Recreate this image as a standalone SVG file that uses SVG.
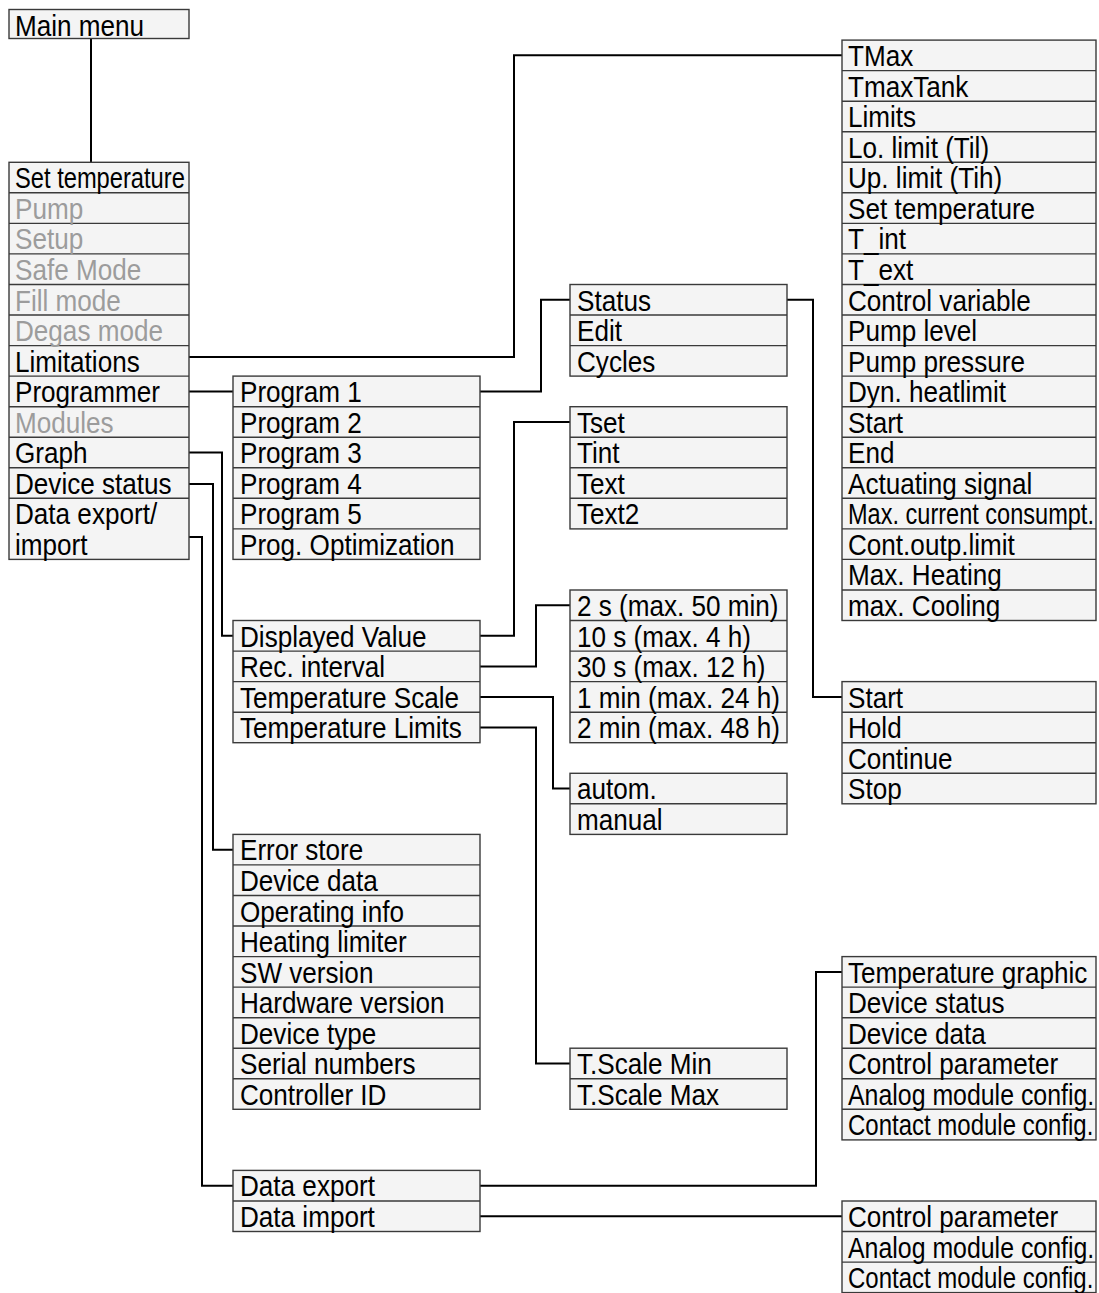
<svg xmlns="http://www.w3.org/2000/svg" width="1099" height="1293" viewBox="0 0 1099 1293">
<style>
.box{fill:#f4f4f4;stroke:#3a3a3a;stroke-width:1.4}
.sep{fill:none;stroke:#3a3a3a;stroke-width:1.4}
.t{font-family:"Liberation Sans",Arial,sans-serif;font-size:30px;fill:#000}
.g{fill:#9c9c9c}
#connectors path{fill:none;stroke:#000;stroke-width:2}
</style>
<rect width="1099" height="1293" fill="#fff"/>
<g id="connectors">
<path d="M91,38.5 V162.3"/>
<path d="M189,357 H514 V55.3 H842"/>
<path d="M189,391.4 H233"/>
<path d="M480,391.4 H541 V299.8 H570"/>
<path d="M787,299.8 H813 V696.9 H842"/>
<path d="M189,452.5 H222 V635.8 H233"/>
<path d="M189,484 H213 V849.7 H233"/>
<path d="M189,537 H202 V1185.7 H233"/>
<path d="M480,635.8 H514 V422 H570"/>
<path d="M480,666.4 H536 V605.3 H570"/>
<path d="M480,696.9 H553 V788.6 H570"/>
<path d="M480,727.5 H536 V1063.5 H570"/>
<path d="M480,1185.7 H816 V971.9 H842"/>
<path d="M480,1216.3 H842"/>
</g>
<g id="main-menu">
<rect class="box" x="9" y="9.5" width="180" height="29"/>
<text class="t" transform="translate(15,35.5) scale(0.87,1)">Main menu</text>
</g>
<g id="menu">
<rect class="box" x="9" y="162.3" width="180" height="397.1"/>
<path class="sep" d="M9,192.8H189M9,223.4H189M9,253.9H189M9,284.5H189M9,315H189M9,345.6H189M9,376.1H189M9,406.7H189M9,437.2H189M9,467.8H189M9,498.3H189"/>
<text class="t" transform="translate(15,188.3) scale(0.79,1)">Set temperature</text>
<text class="t g" transform="translate(15,218.8) scale(0.87,1)">Pump</text>
<text class="t g" transform="translate(15,249.4) scale(0.87,1)">Setup</text>
<text class="t g" transform="translate(15,279.9) scale(0.87,1)">Safe Mode</text>
<text class="t g" transform="translate(15,310.5) scale(0.87,1)">Fill mode</text>
<text class="t g" transform="translate(15,341) scale(0.87,1)">Degas mode</text>
<text class="t" transform="translate(15,371.6) scale(0.87,1)">Limitations</text>
<text class="t" transform="translate(15,402.1) scale(0.87,1)">Programmer</text>
<text class="t g" transform="translate(15,432.7) scale(0.87,1)">Modules</text>
<text class="t" transform="translate(15,463.2) scale(0.87,1)">Graph</text>
<text class="t" transform="translate(15,493.8) scale(0.87,1)">Device status</text>
<text class="t" transform="translate(15,524.3) scale(0.87,1)">Data export/</text>
<text class="t" transform="translate(15,554.9) scale(0.87,1)">import</text>
</g>
<g id="programs">
<rect class="box" x="233" y="376.1" width="247" height="183.3"/>
<path class="sep" d="M233,406.7H480M233,437.2H480M233,467.8H480M233,498.3H480M233,528.9H480"/>
<text class="t" transform="translate(240,402.1) scale(0.87,1)">Program 1</text>
<text class="t" transform="translate(240,432.7) scale(0.87,1)">Program 2</text>
<text class="t" transform="translate(240,463.2) scale(0.87,1)">Program 3</text>
<text class="t" transform="translate(240,493.8) scale(0.87,1)">Program 4</text>
<text class="t" transform="translate(240,524.3) scale(0.87,1)">Program 5</text>
<text class="t" transform="translate(240,554.9) scale(0.87,1)">Prog. Optimization</text>
</g>
<g id="limitations">
<rect class="box" x="842" y="40.1" width="254" height="580.4"/>
<path class="sep" d="M842,70.6H1096M842,101.2H1096M842,131.7H1096M842,162.3H1096M842,192.8H1096M842,223.4H1096M842,253.9H1096M842,284.5H1096M842,315H1096M842,345.6H1096M842,376.1H1096M842,406.7H1096M842,437.2H1096M842,467.8H1096M842,498.3H1096M842,528.9H1096M842,559.4H1096M842,590H1096"/>
<text class="t" transform="translate(848,66.1) scale(0.87,1)">TMax</text>
<text class="t" transform="translate(848,96.6) scale(0.87,1)">TmaxTank</text>
<text class="t" transform="translate(848,127.2) scale(0.87,1)">Limits</text>
<text class="t" transform="translate(848,157.7) scale(0.87,1)">Lo. limit (Til)</text>
<text class="t" transform="translate(848,188.3) scale(0.87,1)">Up. limit (Tih)</text>
<text class="t" transform="translate(848,218.8) scale(0.87,1)">Set temperature</text>
<text class="t" transform="translate(848,249.4) scale(0.87,1)">T_int</text>
<text class="t" transform="translate(848,279.9) scale(0.87,1)">T_ext</text>
<text class="t" transform="translate(848,310.5) scale(0.87,1)">Control variable</text>
<text class="t" transform="translate(848,341) scale(0.87,1)">Pump level</text>
<text class="t" transform="translate(848,371.6) scale(0.87,1)">Pump pressure</text>
<text class="t" transform="translate(848,402.1) scale(0.87,1)">Dyn. heatlimit</text>
<text class="t" transform="translate(848,432.7) scale(0.87,1)">Start</text>
<text class="t" transform="translate(848,463.2) scale(0.87,1)">End</text>
<text class="t" transform="translate(848,493.8) scale(0.87,1)">Actuating signal</text>
<text class="t" transform="translate(848,524.3) scale(0.785,1)">Max. current consumpt.</text>
<text class="t" transform="translate(848,554.9) scale(0.87,1)">Cont.outp.limit</text>
<text class="t" transform="translate(848,585.4) scale(0.87,1)">Max. Heating</text>
<text class="t" transform="translate(848,616) scale(0.87,1)">max. Cooling</text>
</g>
<g id="program-status">
<rect class="box" x="570" y="284.5" width="217" height="91.6"/>
<path class="sep" d="M570,315H787M570,345.6H787"/>
<text class="t" transform="translate(577,310.5) scale(0.87,1)">Status</text>
<text class="t" transform="translate(577,341) scale(0.87,1)">Edit</text>
<text class="t" transform="translate(577,371.6) scale(0.87,1)">Cycles</text>
</g>
<g id="displayed-values">
<rect class="box" x="570" y="406.7" width="217" height="122.2"/>
<path class="sep" d="M570,437.2H787M570,467.8H787M570,498.3H787"/>
<text class="t" transform="translate(577,432.7) scale(0.87,1)">Tset</text>
<text class="t" transform="translate(577,463.2) scale(0.87,1)">Tint</text>
<text class="t" transform="translate(577,493.8) scale(0.87,1)">Text</text>
<text class="t" transform="translate(577,524.3) scale(0.87,1)">Text2</text>
</g>
<g id="rec-intervals">
<rect class="box" x="570" y="590" width="217" height="152.7"/>
<path class="sep" d="M570,620.5H787M570,651.1H787M570,681.6H787M570,712.2H787"/>
<text class="t" transform="translate(577,616) scale(0.87,1)">2 s (max. 50 min)</text>
<text class="t" transform="translate(577,646.5) scale(0.87,1)">10 s (max. 4 h)</text>
<text class="t" transform="translate(577,677.1) scale(0.87,1)">30 s (max. 12 h)</text>
<text class="t" transform="translate(577,707.6) scale(0.87,1)">1 min (max. 24 h)</text>
<text class="t" transform="translate(577,738.2) scale(0.87,1)">2 min (max. 48 h)</text>
</g>
<g id="graph">
<rect class="box" x="233" y="620.5" width="247" height="122.2"/>
<path class="sep" d="M233,651.1H480M233,681.6H480M233,712.2H480"/>
<text class="t" transform="translate(240,646.5) scale(0.87,1)">Displayed Value</text>
<text class="t" transform="translate(240,677.1) scale(0.87,1)">Rec. interval</text>
<text class="t" transform="translate(240,707.6) scale(0.87,1)">Temperature Scale</text>
<text class="t" transform="translate(240,738.2) scale(0.87,1)">Temperature Limits</text>
</g>
<g id="program-control">
<rect class="box" x="842" y="681.6" width="254" height="122.2"/>
<path class="sep" d="M842,712.2H1096M842,742.7H1096M842,773.3H1096"/>
<text class="t" transform="translate(848,707.6) scale(0.87,1)">Start</text>
<text class="t" transform="translate(848,738.2) scale(0.87,1)">Hold</text>
<text class="t" transform="translate(848,768.7) scale(0.87,1)">Continue</text>
<text class="t" transform="translate(848,799.3) scale(0.87,1)">Stop</text>
</g>
<g id="temperature-scale">
<rect class="box" x="570" y="773.3" width="217" height="61.1"/>
<path class="sep" d="M570,803.8H787"/>
<text class="t" transform="translate(577,799.3) scale(0.87,1)">autom.</text>
<text class="t" transform="translate(577,829.8) scale(0.87,1)">manual</text>
</g>
<g id="device-status">
<rect class="box" x="233" y="834.4" width="247" height="274.9"/>
<path class="sep" d="M233,864.9H480M233,895.5H480M233,926H480M233,956.6H480M233,987.1H480M233,1017.7H480M233,1048.2H480M233,1078.8H480"/>
<text class="t" transform="translate(240,860.4) scale(0.87,1)">Error store</text>
<text class="t" transform="translate(240,890.9) scale(0.87,1)">Device data</text>
<text class="t" transform="translate(240,921.5) scale(0.87,1)">Operating info</text>
<text class="t" transform="translate(240,952) scale(0.87,1)">Heating limiter</text>
<text class="t" transform="translate(240,982.6) scale(0.87,1)">SW version</text>
<text class="t" transform="translate(240,1013.1) scale(0.87,1)">Hardware version</text>
<text class="t" transform="translate(240,1043.7) scale(0.87,1)">Device type</text>
<text class="t" transform="translate(240,1074.2) scale(0.87,1)">Serial numbers</text>
<text class="t" transform="translate(240,1104.8) scale(0.87,1)">Controller ID</text>
</g>
<g id="temperature-limits">
<rect class="box" x="570" y="1048.2" width="217" height="61.1"/>
<path class="sep" d="M570,1078.8H787"/>
<text class="t" transform="translate(577,1074.2) scale(0.87,1)">T.Scale Min</text>
<text class="t" transform="translate(577,1104.8) scale(0.87,1)">T.Scale Max</text>
</g>
<g id="export-items">
<rect class="box" x="842" y="956.6" width="254" height="183.3"/>
<path class="sep" d="M842,987.1H1096M842,1017.7H1096M842,1048.2H1096M842,1078.8H1096M842,1109.3H1096"/>
<text class="t" transform="translate(848,982.6) scale(0.87,1)">Temperature graphic</text>
<text class="t" transform="translate(848,1013.1) scale(0.87,1)">Device status</text>
<text class="t" transform="translate(848,1043.7) scale(0.87,1)">Device data</text>
<text class="t" transform="translate(848,1074.2) scale(0.87,1)">Control parameter</text>
<text class="t" transform="translate(848,1104.8) scale(0.83,1)">Analog module config.</text>
<text class="t" transform="translate(848,1135.3) scale(0.80,1)">Contact module config.</text>
</g>
<g id="data-export">
<rect class="box" x="233" y="1170.4" width="247" height="61.1"/>
<path class="sep" d="M233,1201H480"/>
<text class="t" transform="translate(240,1196.4) scale(0.87,1)">Data export</text>
<text class="t" transform="translate(240,1227) scale(0.87,1)">Data import</text>
</g>
<g id="import-items">
<rect class="box" x="842" y="1201" width="254" height="91.6"/>
<path class="sep" d="M842,1231.5H1096M842,1262.1H1096"/>
<text class="t" transform="translate(848,1227) scale(0.87,1)">Control parameter</text>
<text class="t" transform="translate(848,1257.5) scale(0.83,1)">Analog module config.</text>
<text class="t" transform="translate(848,1288.1) scale(0.80,1)">Contact module config.</text>
</g>
</svg>
